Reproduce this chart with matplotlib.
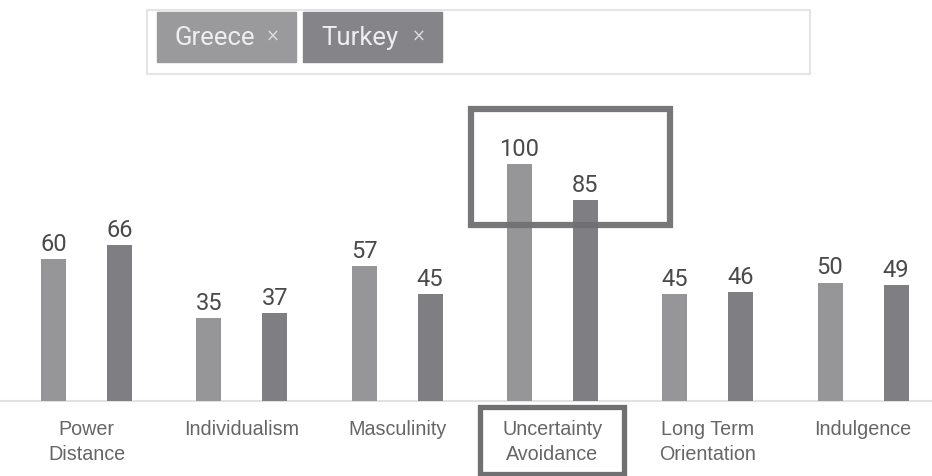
import matplotlib
matplotlib.use("Agg")
import matplotlib.pyplot as plt
from matplotlib.patches import Rectangle
import numpy as np

categories = ["Power\nDistance", "Individualism", "Masculinity",
              "Uncertainty\nAvoidance", "Long Term\nOrientation", "Indulgence"]
greece = [60, 35, 57, 100, 45, 50]
turkey = [66, 37, 45, 85, 46, 49]
series_names = ["Greece", "Turkey"]
highlight = "Uncertainty\nAvoidance"

W, H = 932, 477
fig = plt.figure(figsize=(W / 100, H / 100), dpi=100)
fig.patch.set_facecolor("white")

# pixel geometry helpers
x0_px, step_px = 86.5, 155.3
base_px, unit_px = 75, 2.37  # baseline from bottom, px per value unit

ax = fig.add_axes([0, 0, 1, 1])
ax.set_xlim((0 - x0_px) / step_px, (W - x0_px) / step_px)
ax.set_ylim(-base_px / unit_px, (H - base_px) / unit_px)
ax.axis("off")

c_greece = "#969698"
c_turkey = "#7f7f83"
off = 33 / step_px
bw = 25 / step_px
x = np.arange(len(categories))

bg = ax.bar(x - off, greece, width=bw, color=c_greece, zorder=2)
bt = ax.bar(x + off, turkey, width=bw, color=c_turkey, zorder=2)

ax.axhline(0, color="#e2e2e2", lw=1.5, zorder=1)

for bars, vals in ((bg, greece), (bt, turkey)):
    for b, v in zip(bars, vals):
        ax.annotate(str(v), (b.get_x() + b.get_width() / 2, v),
                    xytext=(0, 6.5), textcoords="offset points",
                    ha="center", va="baseline", fontsize=17,
                    family="Roboto", color="#4a4a4a", zorder=3)

for xi, lab in zip(x, categories):
    ax.annotate(lab, (xi, 0), xytext=(0, -13), textcoords="offset points",
                ha="center", va="top", fontsize=14.2, family="Liberation Sans",
                color="#666666", linespacing=1.42)

# highlight boxes around the highlighted category
hi = categories.index(highlight)
rc = "#707072"
ax.add_patch(Rectangle((hi - 0.524, 74.2), 1.281, 49.0, fill=False,
                       ec=rc, lw=4.5, zorder=4, alpha=0.95))
ax.add_patch(Rectangle((hi - 0.469, -30.6), 0.927, 27.9, fill=False,
                       ec=rc, lw=3.8, zorder=4))

# legend area (chips)
def fx(px):
    return px / W

def fy(py):
    return 1 - py / H

fig.patches.append(Rectangle((fx(147), fy(75)), fx(810) - fx(147), fy(11) - fy(75),
                             transform=fig.transFigure, fill=False,
                             ec="#e4e4e4", lw=1.5))
chips = [(157, 296, "#9a9a9c"), (303, 442, "#858589")]
for (l, r, col), name in zip(chips, series_names):
    fig.patches.append(Rectangle((fx(l), fy(63)), fx(r) - fx(l), fy(13) - fy(63),
                                 transform=fig.transFigure, color=col))
    fig.text(fx(l + 18), fy(38), name, fontsize=18.5, family="Roboto",
             color="#eeeeee", ha="left", va="center")
    fig.text(fx(r - 23), fy(37), "×", fontsize=12, family="DejaVu Sans",
             color="#dddddd", ha="center", va="center")

fig.savefig("out.png", dpi=100, facecolor="white")
